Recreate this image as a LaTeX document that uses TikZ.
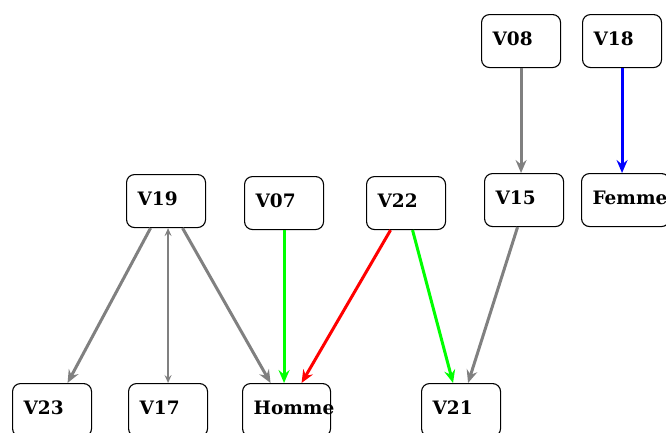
\documentclass[tikz,border=0pt]{standalone}
\usepackage{fontspec}
\setmainfont{DejaVu Serif}
\usetikzlibrary{arrows.meta}
\definecolor{linkgray}{RGB}{128,128,128}
\definecolor{linkgreen}{RGB}{0,255,0}
\definecolor{linkred}{RGB}{255,0,0}
\definecolor{linkblue}{RGB}{0,0,255}
\begin{document}
\begin{tikzpicture}[x=1pt,y=-1pt,
  var/.style={draw=black, line width=1.1pt, rounded corners=8pt, anchor=north west,
    inner xsep=11pt, inner ysep=0pt, text width=57pt, align=left, minimum height=53pt,
    text depth=4pt, font=\bfseries\fontsize{18.5}{21}\selectfont},
  wide/.style={text width=66pt},
  link/.style={line width=3pt, -{Stealth[length=13pt,width=11pt,inset=4.5pt]}},
  thinlink/.style={line width=1.2pt, {Stealth[length=8pt,width=7pt,inset=3pt]}-{Stealth[length=8pt,width=7pt,inset=3pt]}}
]
\useasboundingbox (0,0) rectangle (666,432);
\clip (0,0) rectangle (666,432);

% variables
\node[var] (V08) at (481,14) {V08};
\node[var] (V18) at (582,14) {V18};
\node[var] (V15) at (484,173) {V15};
\node[var,wide] (Femme) at (581,173) {Femme};
\node[var] (V19) at (126,174) {V19};
\node[var] (V07) at (244,176) {V07};
\node[var] (V22) at (366,176) {V22};
\node[var] (V23) at (12,383) {V23};
\node[var] (V17) at (128,383) {V17};
\node[var,wide] (Homme) at (242,383) {Homme};
\node[var] (V21) at (421,383) {V21};

% dependencies
\draw[link, linkgray] (V08.south) -- (V08.south |- V15.north);
\draw[link, linkblue] (V18.south) -- (V18.south |- Femme.north);
\draw[link, linkgray] ([xshift=-15.5pt]V19.south) -- ([xshift=15.5pt]V23.north);
\draw[thinlink, linkgray] (V17.north |- V19.south) -- (V17.north);
\draw[link, linkgray] ([xshift=16.5pt]V19.south) -- ([xshift=-16pt]Homme.north);
\draw[link, linkgreen] (V07.south) -- (V07.south |- Homme.north);
\draw[link, linkred] ([xshift=-15.5pt]V22.south) -- ([xshift=15pt]Homme.north);
\draw[link, linkgreen] ([xshift=6.5pt]V22.south) -- ([xshift=-8pt]V21.north);
\draw[link, linkgray] ([xshift=-6.5pt]V15.south) -- ([xshift=7pt]V21.north);
\end{tikzpicture}
\end{document}
